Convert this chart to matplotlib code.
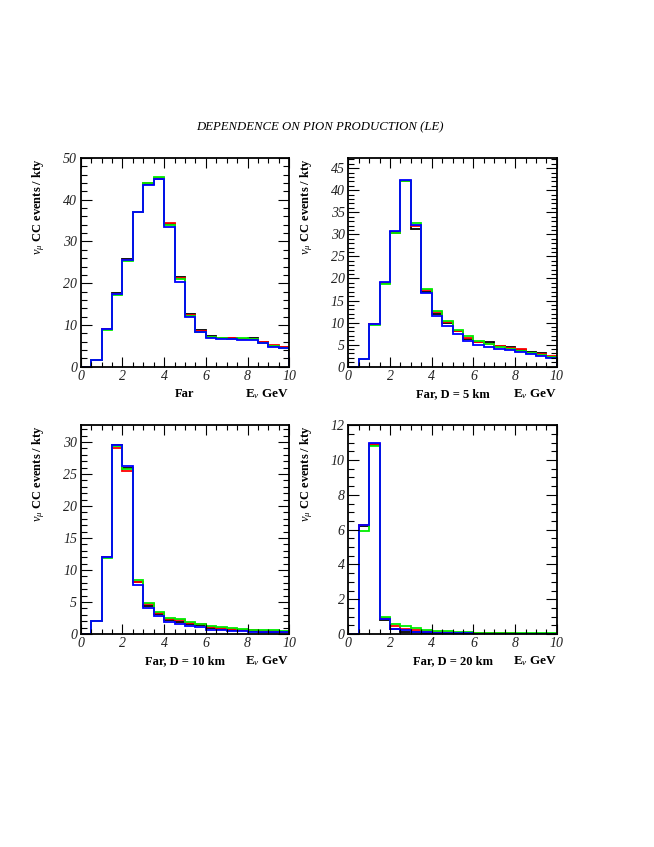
import numpy as np
import matplotlib
matplotlib.use("Agg")
import matplotlib.pyplot as plt
from matplotlib.ticker import MultipleLocator

plt.rcParams['font.family'] = ['Liberation Serif', 'DejaVu Serif']
plt.rcParams['mathtext.fontset'] = 'custom'
plt.rcParams['mathtext.rm'] = 'Liberation Serif'
plt.rcParams['mathtext.it'] = 'Liberation Serif:italic'
plt.rcParams['mathtext.bf'] = 'Liberation Serif:bold'

title = "DEPENDENCE ON PION PRODUCTION (LE)"
bin_edges = np.linspace(0, 10, 21)
series_colors = ["black", "red", "#00ee00", "blue"]

# Far
far_black = [0, 1.5, 9.0, 17.6, 25.7, 37.1, 43.8, 45.0, 34.2, 21.6, 12.6, 8.7, 7.4, 6.9, 6.8, 6.7, 6.9, 6.0, 5.0, 4.6]
far_red   = [0, 1.5, 9.0, 17.5, 25.6, 37.0, 43.9, 45.1, 34.5, 21.2, 12.3, 8.5, 7.2, 6.8, 6.9, 6.6, 6.7, 5.8, 5.2, 4.8]
far_green = [0, 1.5, 8.9, 17.2, 25.3, 37.0, 44.1, 45.5, 34.0, 20.9, 12.2, 8.4, 7.2, 6.8, 6.7, 6.9, 6.6, 5.7, 4.9, 4.5]
far_blue  = [0, 1.5, 9.0, 17.5, 25.6, 37.0, 43.6, 44.9, 33.4, 20.4, 12.0, 8.3, 6.8, 6.7, 6.6, 6.4, 6.4, 5.6, 4.8, 4.4]

# Far, D = 5 km
d5_black = [0, 1.7, 9.6, 19.0, 30.5, 42.2, 31.3, 16.9, 11.9, 9.9, 8.1, 6.2, 5.7, 5.5, 4.8, 4.5, 3.8, 3.4, 3.1, 2.3]
d5_red   = [0, 1.7, 9.6, 19.0, 30.4, 42.0, 32.0, 17.3, 12.4, 10.1, 8.2, 6.5, 5.5, 5.2, 4.6, 4.3, 3.9, 3.2, 2.8, 2.5]
d5_green = [0, 1.7, 9.4, 18.8, 30.2, 42.2, 32.5, 17.6, 12.6, 10.4, 8.4, 7.0, 5.8, 5.2, 4.4, 4.1, 3.6, 3.2, 2.7, 2.2]
d5_blue  = [0, 1.7, 9.6, 19.1, 30.7, 42.4, 32.1, 16.6, 11.5, 9.3, 7.4, 5.9, 5.0, 4.5, 4.0, 3.8, 3.4, 2.9, 2.5, 2.0]

# Far, D = 10 km
d10_black = [0, 2.0, 12.0, 29.5, 26.0, 8.1, 4.4, 3.1, 2.2, 1.8, 1.5, 1.35, 0.9, 0.8, 0.6, 0.65, 0.5, 0.35, 0.35, 0.3]
d10_red   = [0, 2.0, 12.0, 29.0, 25.4, 8.1, 4.7, 3.3, 2.35, 2.2, 1.65, 1.5, 1.1, 1.0, 0.75, 0.7, 0.55, 0.4, 0.4, 0.35]
d10_green = [0, 2.0, 11.9, 29.3, 25.8, 8.4, 4.8, 3.5, 2.55, 2.3, 1.8, 1.6, 1.3, 1.15, 0.88, 0.85, 0.65, 0.55, 0.55, 0.5]
d10_blue  = [0, 2.0, 12.0, 29.6, 26.2, 7.7, 4.1, 2.8, 1.9, 1.6, 1.25, 1.1, 0.7, 0.62, 0.52, 0.47, 0.36, 0.3, 0.3, 0.3]

# Far, D = 20 km
d20_black = [0, 6.2, 10.85, 0.8, 0.3, 0.12, 0.1, 0.08, 0.07, 0.05, 0.04, 0.03, 0.02, 0.02, 0.02, 0.02, 0.01, 0.01, 0.01, 0.01]
d20_red   = [0, 6.25, 10.9, 0.9, 0.45, 0.31, 0.25, 0.15, 0.14, 0.12, 0.08, 0.06, 0.03, 0.03, 0.03, 0.03, 0.02, 0.02, 0.02, 0.02]
d20_green = [0, 5.9, 10.8, 0.96, 0.56, 0.44, 0.33, 0.24, 0.18, 0.18, 0.12, 0.1, 0.05, 0.05, 0.05, 0.05, 0.03, 0.03, 0.03, 0.03]
d20_blue  = [0, 6.25, 11.0, 0.85, 0.3, 0.21, 0.12, 0.1, 0.06, 0.05, 0.04, 0.03, 0.01, 0.01, 0.01, 0.01, 0.01, 0.01, 0.01, 0.01]

panel_labels = ["Far", "Far, D = 5 km", "Far, D = 10 km", "Far, D = 20 km"]
panel_data = [
    [far_black, far_red, far_green, far_blue],
    [d5_black, d5_red, d5_green, d5_blue],
    [d10_black, d10_red, d10_green, d10_blue],
    [d20_black, d20_red, d20_green, d20_blue],
]
y_limits = [50, 47.3, 32.6, 12.0]
y_major = [10, 5, 5, 2]
y_minor = [2, 1, 1, 0.5]

W, H = 654, 847
fig = plt.figure(figsize=(W / 100, H / 100), dpi=100)

ax_w, ax_h = 208.6, 208.7
lefts = [80.7, 348.3, 80.7, 348.3]
bottoms_px = [366.7, 366.7, 634.0, 634.0]

fig.text(320 / W, 1 - 127 / H, title, ha='center', va='center',
         fontsize=9.2, style='italic')

for i in range(4):
    ax = fig.add_axes([lefts[i] / W, 1 - bottoms_px[i] / H, ax_w / W, ax_h / H])
    for vals, col in zip(panel_data[i], series_colors):
        ax.stairs(vals, bin_edges, color=col, lw=1.3, baseline=0)
    ax.set_xlim(0, 10)
    ax.set_ylim(0, y_limits[i])
    ax.xaxis.set_major_locator(MultipleLocator(2))
    ax.xaxis.set_minor_locator(MultipleLocator(0.5))
    ax.yaxis.set_major_locator(MultipleLocator(y_major[i]))
    ax.yaxis.set_minor_locator(MultipleLocator(y_minor[i]))
    ax.tick_params(which='both', direction='in', top=True, right=True,
                   width=0.8, labelsize=10, pad=2.5, labelcolor='#222222')
    ax.tick_params(axis='x', which='major', length=7)
    ax.tick_params(axis='x', which='minor', length=3.5)
    ax.tick_params(axis='y', which='major', length=8)
    ax.tick_params(axis='y', which='minor', length=4)
    for lab in ax.get_xticklabels() + ax.get_yticklabels():
        lab.set_style('italic')
    for sp in ax.spines.values():
        sp.set_linewidth(1.3)
    ax.text(-0.2, 1.0, r"$\nu_\mu$ CC events / kty", transform=ax.transAxes,
            rotation=90, ha='center', va='top', fontsize=9, fontweight='bold')
    ax.text(0.5, -0.13, panel_labels[i], transform=ax.transAxes, ha='center', va='center',
            fontsize=9, fontweight='bold')
    ax.text(1.0, -0.13, r"E$_\nu$ GeV", transform=ax.transAxes, ha='right', va='center',
            fontsize=9.5, fontweight='bold')

fig.savefig("out.png", dpi=100)
